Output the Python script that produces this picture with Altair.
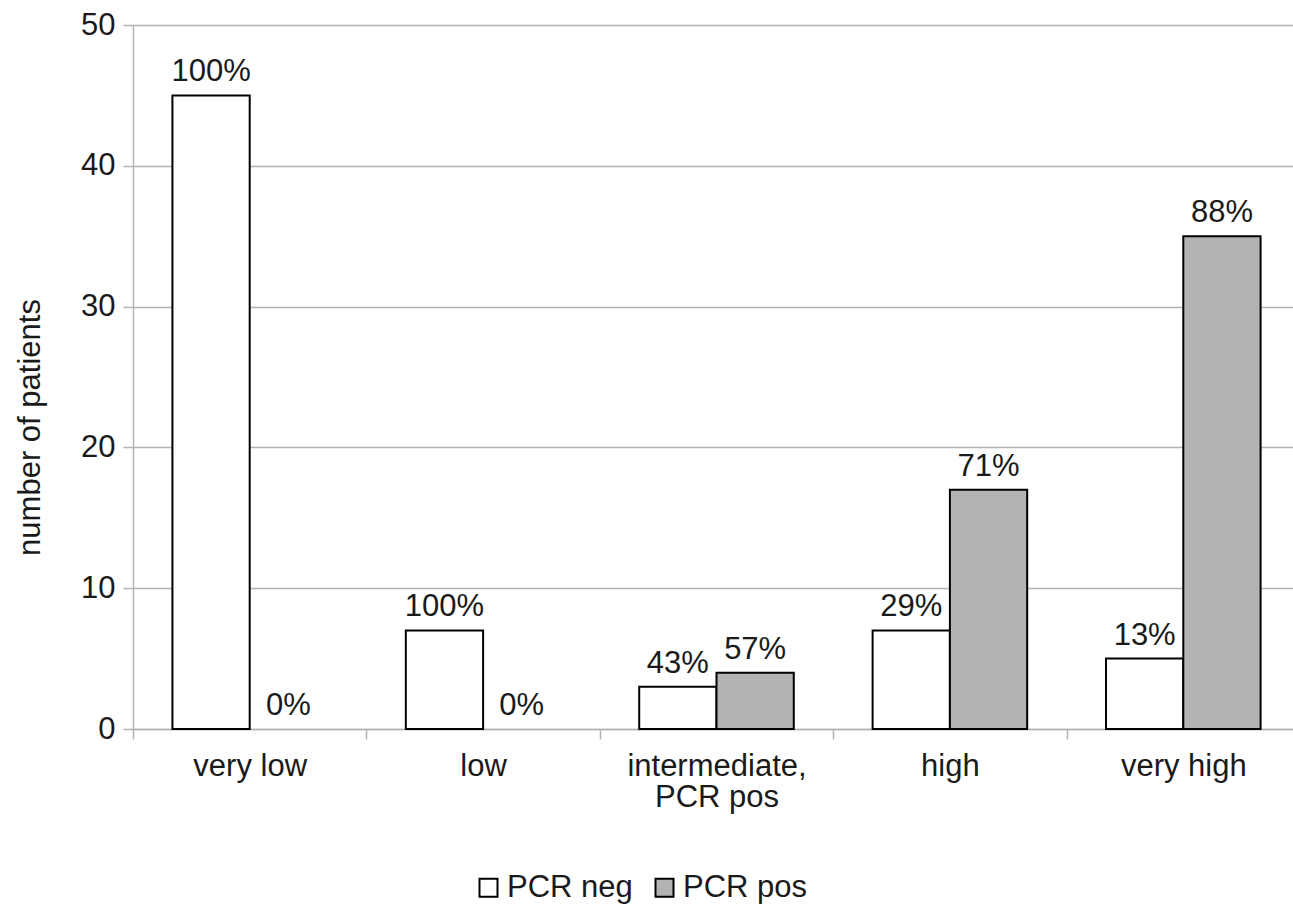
import altair as alt
import pandas as pd

categories = ["very low", "low", "intermediate,\nPCR pos", "high", "very high"]
groups = ["PCR neg", "PCR pos"]
neg_counts = [45, 7, 3, 7, 5]
pos_counts = [0, 0, 4, 17, 35]
neg_pct = ["100%", "100%", "43%", "29%", "13%"]
pos_pct = ["0%", "0%", "57%", "71%", "88%"]

rows = []
for i, c in enumerate(categories):
    rows.append({"category": c, "group": groups[0], "value": neg_counts[i], "pct": neg_pct[i]})
    rows.append({"category": c, "group": groups[1], "value": pos_counts[i], "pct": pos_pct[i]})
df = pd.DataFrame(rows)

FONT = "Liberation Sans"
GRID = "#b3b3b3"
TXT = "#1a1a1a"

x_enc = alt.X(
    "category:N",
    sort=categories,
    title=None,
    scale=alt.Scale(range=[0, 1167], paddingInner=0, paddingOuter=0),
    axis=alt.Axis(
        labelAngle=0,
        labelFontSize=31,
        labelFont=FONT,
        labelColor=TXT,
        labelExpr="split(datum.label, '\\n')",
        labelLineHeight=31,
        labelPadding=12,
        tickBand="extent",
        tickSize=10,
        tickColor=GRID,
        tickWidth=1.5,
        domainColor=GRID,
        domainWidth=1.5,
        grid=False,
    ),
)
xoff_enc = alt.XOffset("group:N", sort=groups, scale=alt.Scale(paddingOuter=0.51, paddingInner=0))
y_enc = alt.Y(
    "value:Q",
    scale=alt.Scale(domain=[0, 50]),
    title="number of patients",
    axis=alt.Axis(
        values=[0, 10, 20, 30, 40, 50],
        labelFontSize=31,
        labelFont=FONT,
        labelColor=TXT,
        labelPadding=8,
        tickSize=10,
        tickColor=GRID,
        tickWidth=1.5,
        domainColor=GRID,
        domainWidth=1.5,
        gridColor=GRID,
        gridWidth=1.5,
        titleFont=FONT,
        titleFontSize=31,
        titleFontWeight="normal",
        titleColor=TXT,
        titleX=-103,
        titleY=402,
        titleAngle=270,
        titleAlign="center",
        titleBaseline="middle",
    ),
)

bars = alt.Chart(df).transform_filter(alt.datum.value > 0).mark_bar(stroke="black", strokeWidth=2).encode(
    x=x_enc,
    xOffset=xoff_enc,
    y=y_enc,
    color=alt.Color(
        "group:N",
        sort=groups,
        scale=alt.Scale(domain=groups, range=["#ffffff", "#b3b3b3"]),
        legend=alt.Legend(
            title=None,
            orient="none",
            legendX=340,
            legendY=847,
            direction="horizontal",
            symbolType="square",
            symbolSize=324,
            symbolStrokeColor="black",
            symbolStrokeWidth=2,
            symbolOpacity=1,
            labelFontSize=31,
            labelFont=FONT,
            labelColor=TXT,
            labelOffset=3,
            columnPadding=16,
        ),
    ),
)

labels = alt.Chart(df).mark_text(
    baseline="alphabetic", dy=-14, fontSize=31, font=FONT, color=TXT
).encode(
    x=alt.X("category:N", sort=categories),
    xOffset=alt.XOffset("group:N", sort=groups),
    y=alt.Y("value:Q"),
    text="pct:N",
)

chart = (
    alt.layer(bars, labels)
    .properties(
        width=1160,
        height=704,
        autosize=alt.AutoSizeParams(type="none"),
        padding={"left": 133, "top": 25, "right": 0, "bottom": 182},
        background="white",
    )
    .configure_view(stroke=None)
)

chart.save("out.html", embed_options={"renderer": "svg", "actions": False})
